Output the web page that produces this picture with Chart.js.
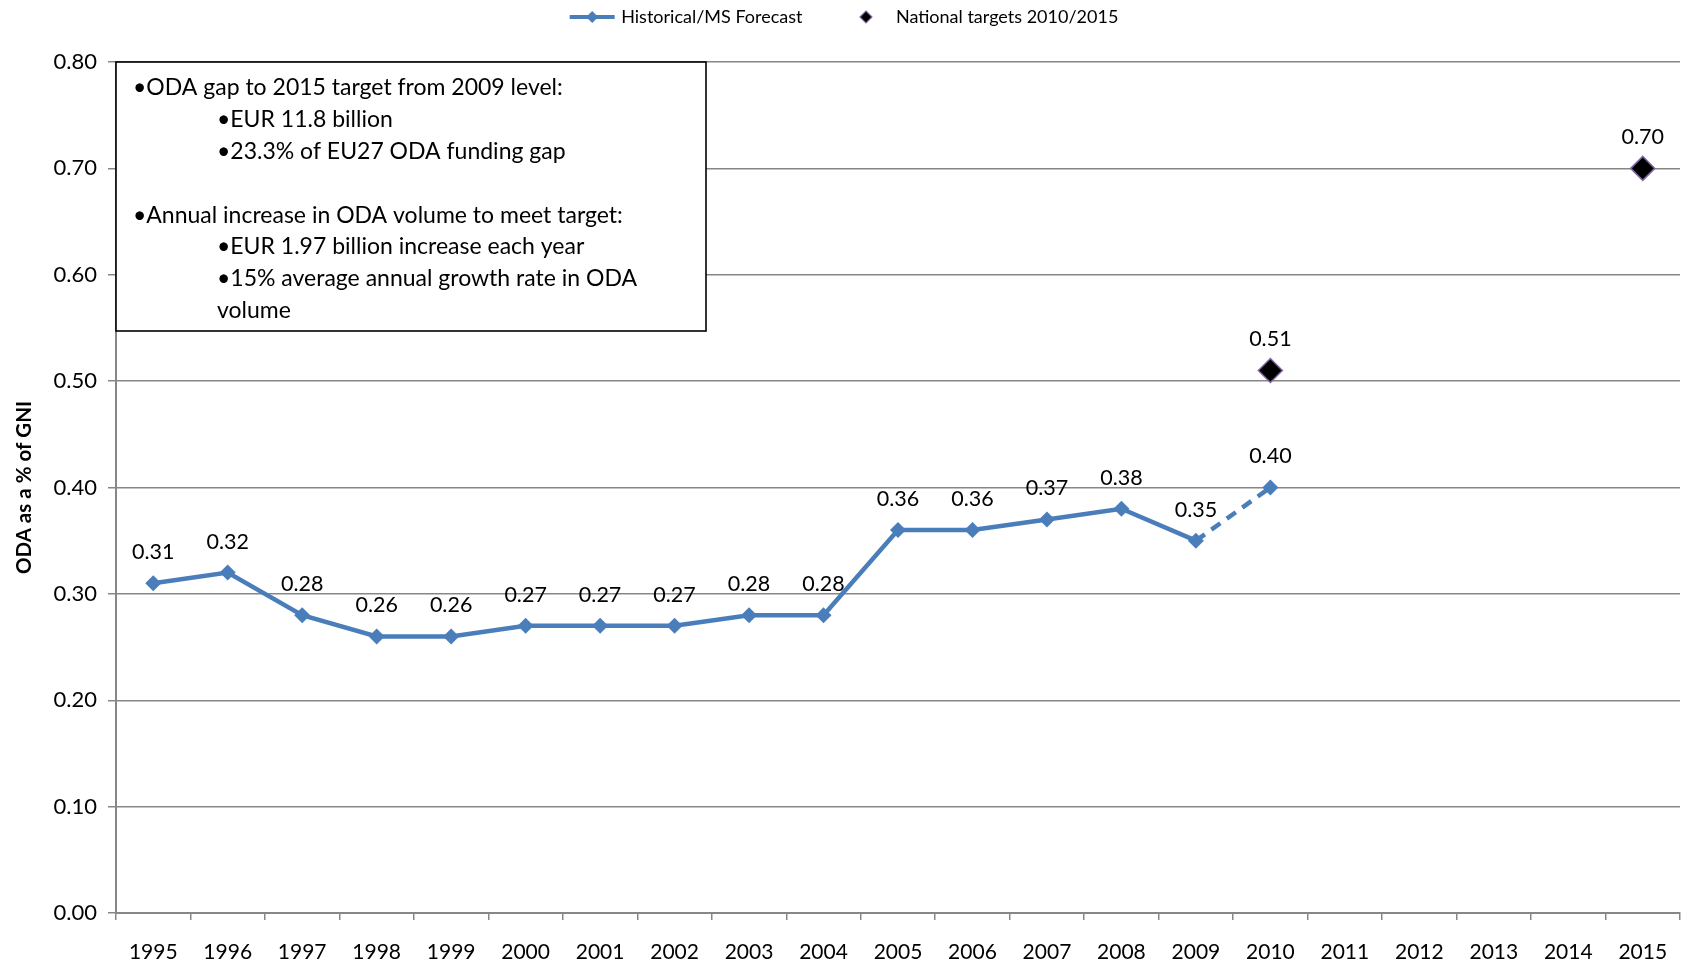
<!DOCTYPE html>
<html>
<head>
<meta charset="utf-8">
<title>ODA as a % of GNI</title>
<script src="https://cdn.jsdelivr.net/npm/chart.js@4/dist/chart.umd.min.js"></script>
<style>
  html, body { margin: 0; padding: 0; background: #fff; }
  #wrap { width: 1688px; height: 963px; }
</style>
</head>
<body>
<div id="wrap"><canvas id="odaChart" width="1688" height="963"></canvas></div>
<script>
const years = ['1995', '1996', '1997', '1998', '1999', '2000', '2001', '2002', '2003', '2004',
               '2005', '2006', '2007', '2008', '2009', '2010', '2011', '2012', '2013', '2014', '2015'];

// Historical to 2009, Member State forecast for 2010
const historical = [0.31, 0.32, 0.28, 0.26, 0.26, 0.27, 0.27, 0.27, 0.28, 0.28,
                    0.36, 0.36, 0.37, 0.38, 0.35, 0.40, null, null, null, null, null];

const targets = [null, null, null, null, null, null, null, null, null, null,
                 null, null, null, null, null, 0.51, null, null, null, null, 0.70];

const forecastYear = '2010';
const yTicks = [0, 0.1, 0.2, 0.3, 0.4, 0.5, 0.6, 0.7, 0.8];

const noteLines = [
    [0, '•ODA gap to 2015 target from 2009 level:'],
    [1, '•EUR 11.8 billion'],
    [1, '•23.3% of EU27 ODA funding gap'],
    [0, ''],
    [0, '•Annual increase in ODA volume to meet target:'],
    [1, '•EUR 1.97 billion increase each year'],
    [1, '•15% average annual growth rate in ODA'],
    [1, 'volume'],
];

const FONT = 'Lato, "Open Sans", sans-serif';
const BLUE = '#4A7EBB';
const GRID = '#878787';

function diamond(ctx, x, y, r, fill, stroke, lw) {
    ctx.beginPath();
    ctx.moveTo(x, y - r);
    ctx.lineTo(x + r, y);
    ctx.lineTo(x, y + r);
    ctx.lineTo(x - r, y);
    ctx.closePath();
    ctx.fillStyle = fill;
    ctx.fill();
    if (stroke) {
        ctx.lineWidth = lw;
        ctx.strokeStyle = stroke;
        ctx.stroke();
    }
}

/* Text box in the upper-left of the plot, drawn over the grid */
const noteBox = {
    id: 'noteBox',
    beforeDatasetsDraw(chart) {
        const { ctx, chartArea } = chart;
        const x0 = chartArea.left, y0 = chartArea.top;
        ctx.save();
        ctx.fillStyle = '#fff';
        ctx.fillRect(x0, y0, 590, 269);
        ctx.lineWidth = 1.6;
        ctx.strokeStyle = '#000';
        ctx.strokeRect(x0, y0, 590, 269);
        ctx.font = '23px ' + FONT;
        ctx.fillStyle = '#000';
        ctx.textBaseline = 'middle';
        noteLines.forEach(([level, text], i) => {
            ctx.fillText(text, x0 + (level ? 101 : 17), y0 + 26 + i * 31.8);
        });
        ctx.restore();
    }
};

/* Value labels above each marker */
const valueLabels = {
    id: 'valueLabels',
    afterDatasetsDraw(chart) {
        const { ctx } = chart;
        ctx.save();
        ctx.font = '21.5px ' + FONT;
        ctx.fillStyle = '#000';
        ctx.textAlign = 'center';
        ctx.textBaseline = 'middle';
        chart.data.datasets.forEach((ds, di) => {
            chart.getDatasetMeta(di).data.forEach((pt, i) => {
                const v = ds.data[i];
                if (v == null) return;
                ctx.fillText(v.toFixed(2), pt.x, pt.y - 31);
            });
        });
        ctx.restore();
    }
};

/* Legend across the top, centred */
const topLegend = {
    id: 'topLegend',
    afterDraw(chart) {
        const { ctx } = chart;
        const cy = 17;
        ctx.save();
        ctx.font = '18px ' + FONT;
        ctx.textBaseline = 'middle';
        const t1 = chart.data.datasets[0].label, t2 = chart.data.datasets[1].label;
        const w1 = 45 + 6.5 + ctx.measureText(t1).width;
        const w2 = 30 + ctx.measureText(t2).width;
        let x = (chart.width - (w1 + 63.5 + w2)) / 2;
        ctx.strokeStyle = BLUE;
        ctx.lineWidth = 4;
        ctx.beginPath();
        ctx.moveTo(x, cy);
        ctx.lineTo(x + 45, cy);
        ctx.stroke();
        diamond(ctx, x + 22.5, cy, 6, BLUE);
        ctx.fillStyle = '#000';
        ctx.fillText(t1, x + 51.5, cy);
        x += w1 + 63.5;
        diamond(ctx, x, cy, 6, '#000', '#8064A2', 1.2);
        ctx.fillStyle = '#000';
        ctx.fillText(t2, x + 30, cy);
        ctx.restore();
    }
};

const forecastIndex = years.indexOf(forecastYear);

new Chart(document.getElementById('odaChart'), {
    type: 'line',
    data: {
        labels: years,
        datasets: [{
            label: 'Historical/MS Forecast',
            data: historical,
            borderColor: BLUE,
            backgroundColor: BLUE,
            borderWidth: 4.5,
            pointStyle: 'rectRot',
            pointRadius: 8,
            pointBorderWidth: 0,
            tension: 0,
            segment: {
                borderDash: c => c.p1DataIndex === forecastIndex ? [11, 8] : undefined
            }
        }, {
            label: 'National targets 2010/2015',
            data: targets,
            showLine: false,
            pointStyle: 'rectRot',
            pointRadius: 12,
            backgroundColor: '#000',
            borderColor: '#8064A2',
            borderWidth: 1.5
        }]
    },
    plugins: [noteBox, valueLabels, topLegend],
    options: {
        responsive: false,
        animation: false,
        layout: { autoPadding: false, padding: { top: 62, right: 8, left: 0, bottom: 0 } },
        plugins: {
            legend: { display: false },
            tooltip: { enabled: false }
        },
        scales: {
            x: {
                offset: true,
                grid: { offset: true, drawOnChartArea: false, drawTicks: true, tickLength: 7, color: GRID, lineWidth: 1.5 },
                border: { color: GRID, width: 2 },
                ticks: { color: '#000', font: { family: FONT, size: 21 }, padding: 20, maxRotation: 0, autoSkip: false },
                afterFit: s => { s.height = 50; s.paddingLeft = 0; s.paddingRight = 0; }
            },
            y: {
                min: 0,
                max: 0.8,
                afterBuildTicks: s => { s.ticks = yTicks.map(v => ({ value: v })); },
                grid: { color: GRID, lineWidth: 1.5, tickLength: 8 },
                border: { color: GRID, width: 2 },
                ticks: {
                    color: '#000',
                    font: { family: FONT, size: 22 },
                    padding: 11,
                    callback: v => v.toFixed(2)
                },
                title: {
                    display: true,
                    text: 'ODA as a % of GNI',
                    color: '#000',
                    font: { family: FONT, size: 20.5, weight: 'bold' },
                    padding: { top: 12, bottom: 0 }
                },
                afterFit: s => { s.width = 116; }
            }
        }
    }
});
</script>
</body>
</html>
